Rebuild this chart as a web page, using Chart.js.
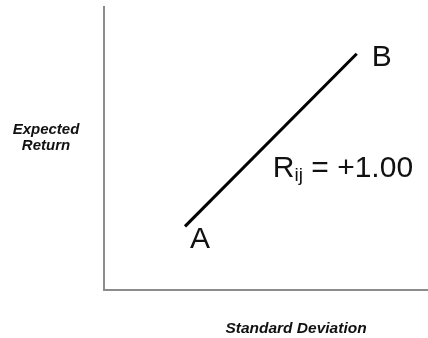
<!DOCTYPE html>
<html>
<head>
<meta charset="utf-8">
<title>Expected Return vs Standard Deviation</title>
<script src="https://cdn.jsdelivr.net/npm/chart.js@4/dist/chart.umd.min.js"></script>
<style>
    html, body { margin: 0; padding: 0; background: #fff; }
    #wrap { width: 428px; height: 338px; position: relative; }
</style>
</head>
<body>
<div id="wrap"><canvas id="chart"></canvas></div>
<script>
// Portfolio points (perfect positive correlation)
var pointLabels = ['A', 'B'];
var stdDevValues = [2.5, 7.8];
var returnValues = [2.25, 8.35];

var axisRange = [0, 10];
var xAxisTitle = 'Standard Deviation';
var yAxisTitle = ['Expected', 'Return'];
var correlationLabel = { main: 'R', sub: 'ij', value: ' = +1.00' };

var FONT = '"Liberation Sans", Arial, Helvetica, sans-serif';

/**
 * Draw point labels, correlation note and the axis titles
 */
var annotations = {
    id: 'annotations',
    afterDraw: function(chart) {
        var ctx = chart.ctx;
        var xs = chart.scales.x;
        var ys = chart.scales.y;
        var area = chart.chartArea;

        ctx.save();
        ctx.fillStyle = '#111';
        ctx.textBaseline = 'alphabetic';

        // A / B labels next to the line ends
        var offsets = [[5, 22], [15, 12]];
        ctx.font = '30px ' + FONT;
        ctx.textAlign = 'left';
        pointLabels.forEach(function(label, i) {
            var px = xs.getPixelForValue(stdDevValues[i]);
            var py = ys.getPixelForValue(returnValues[i]);
            ctx.fillText(label, px + offsets[i][0], py + offsets[i][1]);
        });

        // R_ij = +1.00 below the middle of the line
        var midX = xs.getPixelForValue((stdDevValues[0] + stdDevValues[1]) / 2);
        var midY = ys.getPixelForValue((returnValues[0] + returnValues[1]) / 2);
        var tx = midX + 2;
        var ty = midY + 37;
        ctx.font = '30px ' + FONT;
        ctx.fillText(correlationLabel.main, tx, ty);
        tx += ctx.measureText(correlationLabel.main).width;
        ctx.font = '19px ' + FONT;
        ctx.fillText(correlationLabel.sub, tx, ty + 4);
        tx += ctx.measureText(correlationLabel.sub).width;
        ctx.font = '30px ' + FONT;
        ctx.fillText(correlationLabel.value, tx, ty);

        // axis titles
        ctx.font = 'italic bold 15px ' + FONT;
        ctx.textAlign = 'center';
        ctx.fillText(yAxisTitle[0], 46, 134);
        ctx.fillText(yAxisTitle[1], 46, 150);
        ctx.font = 'italic bold 15.5px ' + FONT;
        ctx.fillText(xAxisTitle, area.left + 192, 333);

        ctx.restore();
    }
};

var ctx = document.getElementById('chart').getContext('2d');
new Chart(ctx, {
    type: 'scatter',
    data: {
        datasets: [{
            label: 'Rij = +1.00',
            data: stdDevValues.map(function(v, i) {
                return { x: v, y: returnValues[i] };
            }),
            showLine: true,
            borderColor: '#000',
            borderWidth: 3,
            pointRadius: 0,
            pointHoverRadius: 0,
            fill: false
        }]
    },
    options: {
        responsive: true,
        maintainAspectRatio: false,
        animation: false,
        layout: {
            padding: { left: 104, right: 0, top: 7, bottom: 48 }
        },
        plugins: {
            legend: { display: false },
            tooltip: { enabled: false }
        },
        scales: {
            x: {
                type: 'linear',
                min: axisRange[0],
                max: axisRange[1],
                ticks: { display: false },
                grid: { display: false, drawTicks: false },
                border: { display: true, color: '#8c8c8c', width: 2 }
            },
            y: {
                type: 'linear',
                min: axisRange[0],
                max: axisRange[1],
                ticks: { display: false },
                grid: { display: false, drawTicks: false },
                border: { display: true, color: '#8c8c8c', width: 2 }
            }
        }
    },
    plugins: [annotations]
});
</script>
</body>
</html>
